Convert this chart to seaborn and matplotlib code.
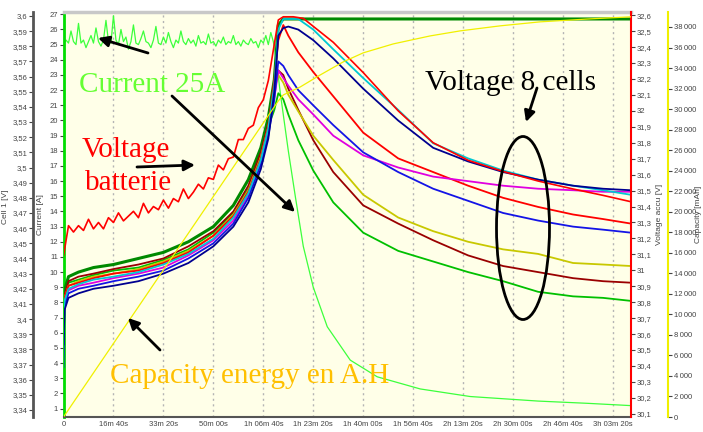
import matplotlib
matplotlib.use('Agg')
import matplotlib.pyplot as plt
from matplotlib.patches import Ellipse
import seaborn as sns

sns.set_style("white")
plt.rcParams['font.family'] = ['Liberation Sans', 'DejaVu Sans']

# x axis (seconds)
tick_sec = [0, 1000, 2000, 3000, 4000, 5000, 6000, 7000, 8000, 9000, 10000, 11000]
tick_lbl = ["0", "16m 40s", "33m 20s", "50m 00s", "1h 06m 40s", "1h 23m 20s",
            "1h 40m 00s", "1h 56m 40s", "2h 13m 20s", "2h 30m 00s",
            "2h 46m 40s", "3h 03m 20s"]

# cell voltages [V]
cell_t = [0, 20, 100, 300, 600, 1000, 1500, 2000, 2500, 3000, 3400, 3700, 3950, 4100, 4220,
          4300, 4400, 4500, 4700, 5000, 5400, 6000, 6700, 7400, 8100, 8800, 9500, 10200, 10800, 11360]
cell_darkgreen = [3.398, 3.419, 3.428, 3.431, 3.434, 3.436, 3.440, 3.444, 3.451, 3.461, 3.475, 3.492, 3.513, 3.533, 3.558,
                  3.594, 3.598, 3.598, 3.598, 3.598, 3.598, 3.598, 3.598, 3.598, 3.598, 3.598, 3.598, 3.598, 3.598, 3.598]
cell_green = [3.394, 3.415, 3.424, 3.426, 3.429, 3.432, 3.434, 3.439, 3.446, 3.457, 3.470, 3.486, 3.508, 3.527, 3.538,
              3.549, 3.545, 3.535, 3.518, 3.498, 3.477, 3.457, 3.445, 3.438, 3.431, 3.425, 3.418, 3.415, 3.414, 3.412]
cell_darkred = [3.396, 3.416, 3.425, 3.428, 3.430, 3.433, 3.436, 3.440, 3.448, 3.458, 3.471, 3.488, 3.510, 3.529, 3.552,
                3.564, 3.561, 3.552, 3.538, 3.518, 3.497, 3.475, 3.463, 3.452, 3.442, 3.435, 3.431, 3.427, 3.425, 3.424]
cell_yellow = [3.393, 3.414, 3.422, 3.425, 3.428, 3.430, 3.433, 3.438, 3.445, 3.455, 3.469, 3.485, 3.507, 3.527, 3.551,
               3.561, 3.556, 3.548, 3.537, 3.521, 3.505, 3.482, 3.467, 3.458, 3.451, 3.446, 3.443, 3.437, 3.436, 3.435]
cell_red = [3.394, 3.414, 3.422, 3.424, 3.427, 3.430, 3.432, 3.437, 3.444, 3.455, 3.468, 3.484, 3.506, 3.527, 3.558,
            3.584, 3.594, 3.587, 3.576, 3.563, 3.547, 3.523, 3.506, 3.497, 3.488, 3.480, 3.474, 3.469, 3.466, 3.463]
cell_magenta = [3.390, 3.411, 3.419, 3.422, 3.424, 3.427, 3.430, 3.434, 3.442, 3.452, 3.465, 3.482, 3.504, 3.523, 3.546,
                3.564, 3.559, 3.554, 3.545, 3.535, 3.521, 3.508, 3.500, 3.494, 3.491, 3.488, 3.486, 3.485, 3.484, 3.484]
cell_blue = [3.368, 3.408, 3.417, 3.420, 3.422, 3.425, 3.428, 3.432, 3.440, 3.450, 3.463, 3.480, 3.502, 3.521, 3.545,
             3.570, 3.567, 3.561, 3.551, 3.541, 3.528, 3.510, 3.497, 3.486, 3.478, 3.470, 3.465, 3.461, 3.459, 3.457]
cell_cyan = [3.391, 3.412, 3.420, 3.423, 3.426, 3.428, 3.431, 3.436, 3.443, 3.453, 3.467, 3.483, 3.505, 3.526, 3.554,
             3.591, 3.598, 3.598, 3.598, 3.591, 3.578, 3.559, 3.538, 3.516, 3.506, 3.498, 3.492, 3.488, 3.485, 3.482]
cell_navy = [3.383, 3.406, 3.414, 3.417, 3.420, 3.422, 3.425, 3.430, 3.437, 3.448, 3.461, 3.477, 3.499, 3.519, 3.550,
             3.587, 3.592, 3.593, 3.591, 3.584, 3.572, 3.552, 3.531, 3.513, 3.504, 3.497, 3.492, 3.488, 3.486, 3.485]

# battery voltage [V]
bat_t = [0, 100, 200, 300, 400, 500, 600, 700, 800, 900, 1000, 1100, 1200, 1300, 1400, 1500,
         1600, 1700, 1800, 1900, 2000, 2100, 2200, 2300, 2400, 2500, 2600, 2700, 2800, 2900,
         3000, 3100, 3200, 3300, 3400, 3500, 3600, 3700, 3800, 3900, 4000, 4100, 4200, 4300,
         4400, 4600, 4800, 5000, 5400, 6000, 6700, 7400, 8100, 8800, 9500, 10200, 10800, 11360]
bat_v = [31.09, 31.28, 31.24, 31.28, 31.25, 31.32, 31.26, 31.30, 31.26, 31.33, 31.30, 31.36, 31.31, 31.34,
         31.37, 31.33, 31.42, 31.36, 31.40, 31.38, 31.44, 31.39, 31.45, 31.43, 31.51, 31.45, 31.49, 31.54,
         31.51, 31.58, 31.57, 31.66, 31.63, 31.70, 31.71, 31.82, 31.82, 31.89, 31.91, 32.02, 32.07, 32.19,
         32.38, 32.57, 32.59, 32.59, 32.58, 32.53, 32.43, 32.24, 32.00, 31.80, 31.69, 31.62, 31.56, 31.51,
         31.47, 31.43]

# charge current [A]: constant phase sampled every 50 s, then the decay
cur_t = list(range(0, 4201, 50)) + [4260, 4340, 4500, 4640, 4800, 5000, 5280, 5740, 6280,
                                    7140, 8140, 9500, 10500, 11360]
cur_a = [25.0, 25.3, 25.1, 25.9, 25.2, 25.0, 26.4, 25.1, 25.3, 24.8,
         25.2, 25.6, 25.1, 26.1, 25.2, 24.9, 25.3, 26.6, 25.2, 25.1,
         26.9, 25.3, 25.0, 26.0, 25.2, 25.5, 24.7, 25.2, 26.3, 25.1,
         25.0, 25.4, 25.9, 25.2, 25.1, 24.8, 25.3, 26.2, 25.1, 25.0,
         25.5, 25.1, 25.8, 25.2, 24.8, 25.3, 25.1, 25.9, 25.2, 25.0,
         25.4, 25.1, 25.3, 24.9, 25.6, 25.1, 25.2, 25.0, 25.7, 25.1,
         25.2, 24.9, 25.3, 25.1, 25.5, 25.0, 25.2, 25.1, 25.6, 25.0,
         25.2, 24.9, 25.3, 25.1, 25.0, 25.4, 25.1, 25.2, 24.8, 25.3,
         25.1, 25.6, 25.0, 25.8, 25.2,
         24.0, 21.8, 18.0, 15.0, 11.7, 9.0, 6.4, 4.2, 3.1, 2.3, 1.8, 1.5, 1.35, 1.2]

# capacity [mAh]
cap_t = [0, 4300, 4400, 4740, 5140, 5600, 6000, 6600, 7340, 7940, 8740, 9540, 10540, 11360]
cap_v = [0, 30800, 31380, 32160, 33330, 34600, 35480, 36350, 37130, 37620, 38110, 38500, 38790, 38990]

W, H = 703, 432
fig = plt.figure(figsize=(W / 100, H / 100), dpi=100)
x0, x1, y0, y1 = 63.5, 631, 12, 417
ax = fig.add_axes([x0 / W, 1 - y1 / H, (x1 - x0) / W, (y1 - y0) / H])
ax_cell = ax.twinx()
ax_acc = ax.twinx()
ax_cap = ax.twinx()

ax.set_facecolor('#ffffe8')
tick_col = '#444444'

# current
sns.lineplot(x=cur_t, y=cur_a, ax=ax, color='#3cff3c', lw=0.9, estimator=None)

# cells
cells = [(cell_darkgreen, '#008a00', 2.2), (cell_green, '#00c000', 1.3), (cell_darkred, '#9a0000', 1.3),
         (cell_yellow, '#c8c800', 1.3), (cell_red, '#ff0000', 1.3), (cell_magenta, '#e000e0', 1.3),
         (cell_blue, '#1414e6', 1.3), (cell_cyan, '#00c8d2', 1.3), (cell_navy, '#000090', 1.3)]
for vals, col, lw in cells:
    sns.lineplot(x=cell_t, y=vals, ax=ax_cell, color=col, lw=lw, estimator=None)

sns.lineplot(x=bat_t, y=bat_v, ax=ax_acc, color='#ff0000', lw=1.2, estimator=None)
sns.lineplot(x=cap_t, y=cap_v, ax=ax_cap, color='#f0f000', lw=0.9, estimator=None)

ax.set_xlim(0, 11360)
ax.set_ylim(0.45, 27.15)
ax_cell.set_ylim(3.3354, 3.6026)
ax_acc.set_ylim(30.08, 32.62)
ax_cap.set_ylim(0, 39460)

ax.set_xticks(tick_sec)
ax.set_xticklabels(tick_lbl)
ax.tick_params(axis='x', length=0, labelsize=5.5, colors=tick_col, pad=3)
ax.grid(axis='x', color='#b4b4b4', linestyle=(0, (1.5, 2.5)), lw=1)
ax.grid(axis='y', visible=False)

# current axis (left, green)
ax.set_yticks(range(1, 28))
ax.tick_params(axis='y', length=3, labelsize=5.5, colors=tick_col, pad=1)
ax.spines['left'].set_color('#00dd00')
ax.spines['left'].set_linewidth(2)
ax.spines['bottom'].set_color('#555555')
ax.spines['bottom'].set_linewidth(1.5)
ax.spines['top'].set_color('#c8c8c8')
ax.spines['top'].set_linewidth(2.5)
ax.spines['right'].set_visible(False)
ax.set_ylabel('Current [A]', fontsize=6, color=tick_col)
ax.yaxis.set_label_coords((44 - x0) / (x1 - x0), 0.5)

# cell axis (far left)
cell_ticks = [3.34 + i * 0.01 for i in range(27)]
ax_cell.yaxis.set_ticks_position('left')
ax_cell.yaxis.set_label_position('left')
ax_cell.spines['left'].set_position(('axes', (33 - x0) / (x1 - x0)))
ax_cell.spines['left'].set_visible(True)
ax_cell.spines['left'].set_color('#555555')
ax_cell.spines['left'].set_linewidth(2)
for s in ['right', 'top', 'bottom']:
    ax_cell.spines[s].set_visible(False)
ax_cell.set_yticks(cell_ticks)
ax_cell.set_yticklabels([f"{v:.2f}".rstrip('0').replace('.', ',') for v in cell_ticks])
ax_cell.tick_params(axis='y', length=3, labelsize=5.5, colors=tick_col, pad=1)
ax_cell.set_ylabel('Cell 1 [V]', fontsize=6, color=tick_col)
ax_cell.yaxis.set_label_coords((9 - x0) / (x1 - x0), 0.52)

# accu voltage axis (right, red)
acc_ticks = [30.1 + i * 0.1 for i in range(26)]
for s in ['left', 'top', 'bottom']:
    ax_acc.spines[s].set_visible(False)
ax_acc.spines['right'].set_color('#ff0000')
ax_acc.spines['right'].set_linewidth(1.5)
ax_acc.set_yticks(acc_ticks)
ax_acc.set_yticklabels([f"{v:.1f}".replace('.0', '').replace('.', ',') for v in acc_ticks])
ax_acc.tick_params(axis='y', length=3, labelsize=5.5, colors=tick_col, pad=1)
ax_acc.set_ylabel('Voltage accu [V]', fontsize=6, color=tick_col)
ax_acc.yaxis.set_label_coords((656 - x0) / (x1 - x0), 0.5)

# capacity axis (far right, yellow)
cap_ticks = list(range(0, 38001, 2000))
for s in ['left', 'top', 'bottom']:
    ax_cap.spines[s].set_visible(False)
ax_cap.spines['right'].set_position(('axes', (668 - x0) / (x1 - x0)))
ax_cap.spines['right'].set_color('#f0f000')
ax_cap.spines['right'].set_linewidth(1.5)
ax_cap.set_yticks(cap_ticks)
ax_cap.set_yticklabels([f"{v:,}".replace(',', '\u2009') for v in cap_ticks],
                       family=['Liberation Sans Narrow', 'Liberation Sans', 'DejaVu Sans'])
ax_cap.tick_params(axis='y', length=3, labelsize=5.5, colors=tick_col, pad=1)
ax_cap.set_ylabel('Capacity [mAh]', fontsize=6, color=tick_col)
ax_cap.yaxis.set_label_coords((695 - x0) / (x1 - x0), 0.5)


def arrow(xa, ya, xb, yb):
    ax_cap.annotate('', xy=(xb, H - yb), xytext=(xa, H - ya), xycoords='figure pixels',
                    textcoords='figure pixels', annotation_clip=False,
                    arrowprops=dict(arrowstyle='-|>', color='black', lw=2, mutation_scale=16,
                                    shrinkA=0, shrinkB=0))


def note(x, y, s, col):
    fig.text(x / W, 1 - y / H, s, fontsize=21, family='Liberation Serif', color=col,
             ha='left', va='baseline')


note(79, 92, 'Current 25A', '#66ff33')
note(82, 157, 'Voltage', '#ff0000')
note(85, 190, 'batterie', '#ff0000')
note(425, 90, 'Voltage 8 cells', 'black')
note(110, 383, 'Capacity energy en A.H', '#ffc000')

arrow(148, 53, 98, 38)
arrow(172, 96, 295, 212)
arrow(137, 167, 195, 165)
arrow(537, 88, 526, 122)
arrow(160, 350, 128, 318)

fig.add_artist(Ellipse((523 / W, 1 - 228 / H), 53 / W, 183 / H, transform=fig.transFigure,
                       fill=False, color='black', lw=2))

fig.savefig('out.png', dpi=100)
